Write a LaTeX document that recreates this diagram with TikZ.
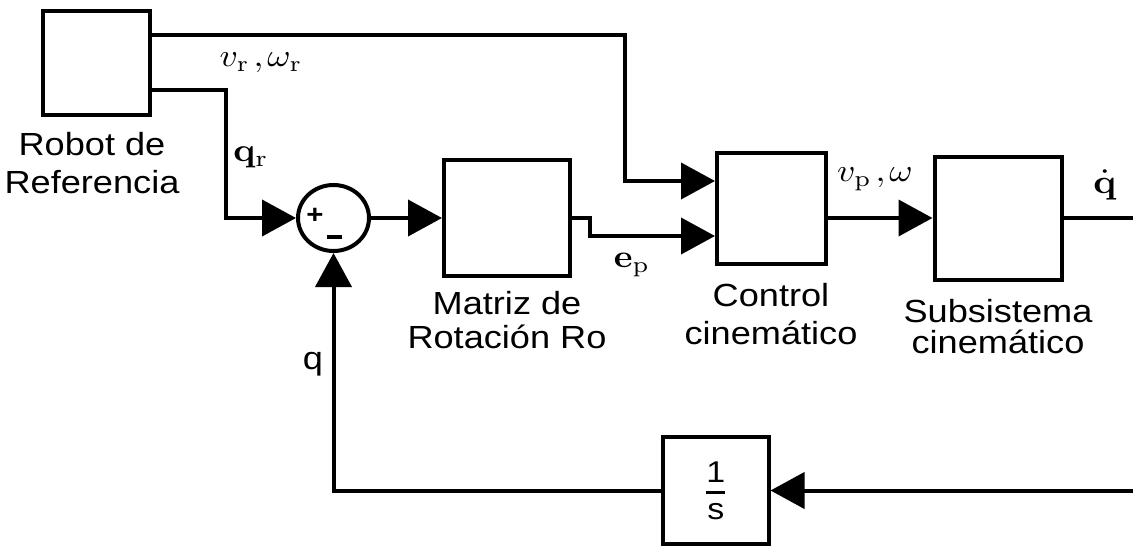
\documentclass[tikz,border=0pt]{standalone}
\usepackage{amsmath}
\usepackage{graphicx}
\usepackage[no-math]{fontspec}
\setmainfont{Liberation Sans}[FakeStretch=1.13]
\usetikzlibrary{arrows.meta,shapes.geometric}
\newcommand{\mlab}[2]{\scalebox{#1}[#2]}
\begin{document}
\begin{tikzpicture}[x=1pt,y=-1pt,
  wire/.style={line width=4pt, line join=miter},
  arr/.style={wire, -{Triangle[length=34pt,width=36pt]}},
  blk/.style={draw, line width=4pt, inner sep=0pt, rectangle},
  lbl/.style={align=center, inner sep=0pt},
  mlbl/.style={inner sep=0pt},
]
\useasboundingbox (0,0) rectangle (1133,546);

% blocks
\node[blk, minimum width=107pt, minimum height=104.5pt] (robot) at (96.5,62.75) {};
\node[blk, minimum width=126pt, minimum height=116pt] (mat) at (507,218) {};
\node[blk, minimum width=109pt, minimum height=111pt] (ctrl) at (771.5,208.5) {};
\node[blk, minimum width=127.5pt, minimum height=123pt] (sub) at (998.25,218) {};
\node[blk, minimum width=105.5pt, minimum height=107pt, font=\fontsize{30}{30}\selectfont] (int) at (715.75,490.5)
  {$\displaystyle{\text{1}\above 3pt\text{s}}$};
\node[ellipse, draw, line width=4pt, inner sep=0pt, minimum width=71pt, minimum height=66pt] (sum) at (333.5,218) {};
\node[inner sep=0pt, font=\fontsize{26}{26}\selectfont\bfseries] (plus) at (315,216) {+};
\node[inner sep=0pt] (minus) at (334,237) {\rule{15pt}{3.5pt}};

% bend points
\coordinate (b1) at (625,35);
\coordinate (c1) at (625,181);
\coordinate (b2) at (225.5,89.5);
\coordinate (b3) at (225.5,218);
\coordinate (b4) at (590,218);
\coordinate (b5) at (590,236);
\coordinate (out) at (1133,218);
\coordinate (fbin) at (1133,490.5);

% connectors
\draw[arr] (robot.east |- b1) -- (b1) -- (c1) -- (c1 -| ctrl.west);
\draw[arr] (robot.east |- b2) -- (b2) -- (b3) -- (sum.west);
\draw[arr] (sum.east) -- (mat.west);
\draw[arr] (mat.east) -- (b4) -- (b5) -- (b5 -| ctrl.west);
\draw[arr] (ctrl.east |- sub.west) -- (sub.west);
\draw[wire] (sub.east) -- (out);
\draw[arr] (fbin) -- (int.east);
\draw[arr] (int.west) -- (int.west -| sum.south) -- (sum.south);

% text labels
\node[lbl, font=\fontsize{32}{38}\selectfont] (robotlbl) at (92,163) {Robot de\\Referencia};
\node[lbl, font=\fontsize{32}{34}\selectfont] (matlbl) at (507,320.5) {Matriz de\\Rotación Ro};
\node[lbl, font=\fontsize{32}{38}\selectfont] (ctrllbl) at (771,314) {Control\\cinemático};
\node[lbl, font=\fontsize{32}{31}\selectfont] (sublbl) at (998,327) {Subsistema\\cinemático};
\node[lbl, font=\fontsize{32}{38}\selectfont] (qlbl) at (313,364) {q};

% math labels
\node[mlbl] (vr) at (261,63) {\mlab{3.55}{3.2}{$v_{\mathrm{r}}\mkern2mu{,}\mkern2mu\omega_{\mathrm{r}}$}};
\node[mlbl] (qr) at (251,157) {\mlab{3.65}{3.3}{$\mathbf{q}_{\mathrm{r}}$}};
\node[mlbl] (ep) at (632,265) {\mlab{3.55}{3.2}{$\mathbf{e}_{\mathrm{p}}$}};
\node[mlbl] (vp) at (875,179) {\mlab{3.55}{3.2}{$v_{\mathrm{p}}\mkern2mu{,}\mkern2mu\omega$}};
\node[mlbl] (qd) at (1105,185) {\mlab{3.8}{3.4}{$\dot{\mathbf{q}}$}};
\end{tikzpicture}
\end{document}
